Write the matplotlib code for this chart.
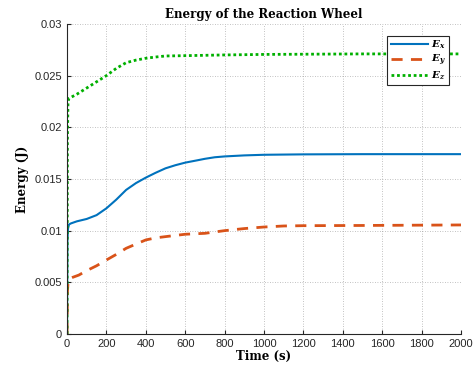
import matplotlib
matplotlib.use("Agg")
import matplotlib.pyplot as plt

# values
t_x = [0, 2, 5, 10, 20, 50, 100, 150, 200, 250, 300, 350, 400, 450, 500, 550, 600, 660, 700, 750, 800, 900, 1000, 1200, 1500, 2000]
e_x = [0, 0.0090, 0.0102, 0.0106, 0.0107, 0.0109, 0.01113, 0.0115, 0.01216, 0.0130, 0.01394, 0.0146, 0.01513, 0.0156, 0.01603, 0.01633, 0.01658, 0.0168, 0.01695, 0.0171, 0.01718, 0.01728, 0.01734, 0.01738, 0.0174, 0.0174]

t_y = [0, 2, 5, 10, 30, 60, 100, 150, 200, 250, 300, 350, 400, 450, 500, 600, 700, 800, 900, 1000, 1100, 1200, 1500, 2000]
e_y = [0, 0.0040, 0.0050, 0.0053, 0.00549, 0.0057, 0.00613, 0.0066, 0.00716, 0.0077, 0.00829, 0.0087, 0.0091, 0.0093, 0.00942, 0.00965, 0.00974, 0.0100, 0.0102, 0.01035, 0.01045, 0.01048, 0.0105, 0.01055]

t_z = [0, 2, 5, 10, 20, 50, 100, 150, 200, 250, 300, 350, 400, 450, 500, 600, 800, 1000, 1500, 2000]
e_z = [0, 0.0190, 0.0225, 0.0228, 0.0229, 0.0232, 0.0238, 0.0244, 0.0250, 0.0257, 0.02625, 0.0265, 0.02668, 0.0268, 0.0269, 0.02693, 0.0270, 0.02705, 0.0271, 0.0271]

x_ticks = list(range(0, 2001, 200))
y_ticks = [0, 0.005, 0.01, 0.015, 0.02, 0.025, 0.03]
y_labels = ["0", "0.005", "0.01", "0.015", "0.02", "0.025", "0.03"]

plt.rcParams["font.family"] = ["Liberation Sans", "DejaVu Sans"]
plt.rcParams["mathtext.fontset"] = "custom"
plt.rcParams["mathtext.bf"] = "DejaVu Serif:italic:bold"
plt.rcParams["mathtext.it"] = "DejaVu Serif:italic:bold"

fig = plt.figure(figsize=(4.76, 3.74), dpi=100)
ax = fig.add_axes([0.1408, 0.107, 0.8277, 0.829])

ax.plot(t_x, e_x, color="#0072BD", lw=1.5, label=r"$\mathbf{E_x}$")
ax.plot(t_y, e_y, color="#D95319", lw=2.0, ls=(0, (4, 3)), label=r"$\mathbf{E_y}$")
ax.plot(t_z, e_z, color="#00B000", lw=2.0, ls=(0, (1, 1)), label=r"$\mathbf{E_z}$")

ax.set_xlim(0, 2000)
ax.set_ylim(0, 0.03)
ax.set_xticks(x_ticks)
ax.set_yticks(y_ticks)
ax.set_yticklabels(y_labels)
ax.tick_params(direction="in", labelsize=8, colors="#262626", length=3)
ax.grid(True, ls=(0, (1, 2)), color="#777777", lw=0.6, alpha=0.6)
for side in ("top", "right"):
    ax.spines[side].set_visible(False)
for side in ("left", "bottom"):
    ax.spines[side].set_color("#262626")
    ax.spines[side].set_linewidth(0.8)

serif = ["DejaVu Serif"]
ax.set_title("Energy of the Reaction Wheel", family=serif, fontweight="bold", fontsize=8.5, pad=4)
ax.set_xlabel("Time (s)", family=serif, fontweight="bold", fontsize=8.5, labelpad=1)
ax.set_ylabel("Energy (J)", family=serif, fontweight="bold", fontsize=8.5, labelpad=4)

leg = ax.legend(loc="upper right", bbox_to_anchor=(0.97, 0.962), fancybox=False,
                framealpha=1, edgecolor="#262626", fontsize=7.5, handlelength=3.6,
                borderpad=0.3, labelspacing=0.15, handletextpad=0.3, borderaxespad=0)
leg.get_frame().set_linewidth(0.8)

fig.savefig("out.png", dpi=100)
